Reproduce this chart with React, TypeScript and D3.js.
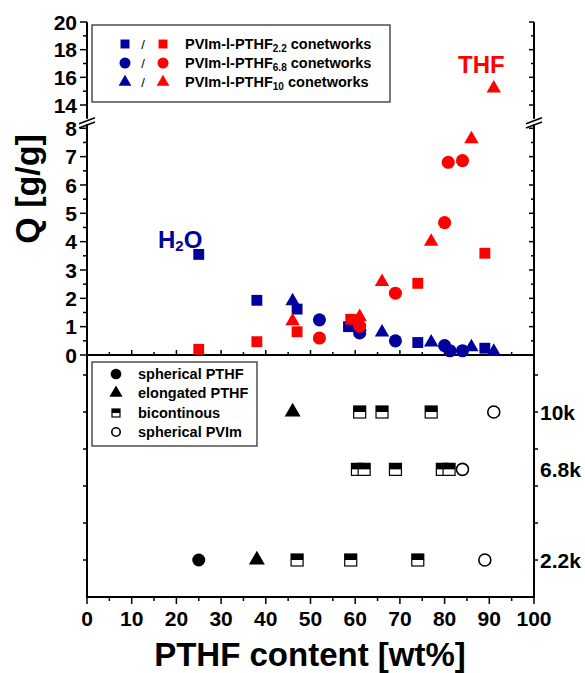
import React from "react";
import * as d3 from "d3";

// ---------- data ----------
const BLUE = "#00009C";
const RED = "#FF0000";

// Swelling in water (blue) and THF (red), Q [g/g] vs PTHF content [wt%]
const h2o22 = [
  { wt: 25, q: 3.55 }, { wt: 38, q: 1.93 }, { wt: 47, q: 1.62 },
  { wt: 58.5, q: 1.0 }, { wt: 74, q: 0.44 }, { wt: 89, q: 0.24 },
];
const h2o68 = [
  { wt: 52, q: 1.24 }, { wt: 61, q: 0.78 }, { wt: 69, q: 0.5 },
  { wt: 80, q: 0.33 }, { wt: 81.2, q: 0.15 }, { wt: 84, q: 0.15 },
];
const h2o10 = [
  { wt: 46, q: 1.9 }, { wt: 61, q: 1.0 }, { wt: 66, q: 0.8 },
  { wt: 77, q: 0.45 }, { wt: 86, q: 0.28 }, { wt: 91, q: 0.12 },
];
const thf22 = [
  { wt: 25, q: 0.2 }, { wt: 38, q: 0.47 }, { wt: 47, q: 0.82 },
  { wt: 59, q: 1.26 }, { wt: 74, q: 2.53 }, { wt: 89, q: 3.59 },
];
const thf68 = [
  { wt: 52, q: 0.6 }, { wt: 61, q: 1.02 }, { wt: 69, q: 2.18 },
  { wt: 80, q: 4.67 }, { wt: 80.8, q: 6.8 }, { wt: 84, q: 6.86 },
];
const thf10 = [
  { wt: 46, q: 1.2 }, { wt: 61, q: 1.35 }, { wt: 66, q: 2.58 },
  { wt: 77, q: 4.0 }, { wt: 86, q: 7.62 }, { wt: 91, q: 15.2 },
];

// Morphology (lower panel)
const rowLabels = ["2.2k", "6.8k", "10k"];
const rowValues = [1, 3.45, 5];
const sphericalPTHF = [{ wt: 25, row: "2.2k" }];
const elongatedPTHF = [{ wt: 38, row: "2.2k" }, { wt: 46, row: "10k" }];
const bicontinuous = [
  { wt: 47, row: "2.2k" }, { wt: 59, row: "2.2k" }, { wt: 74, row: "2.2k" },
  { wt: 60.5, row: "6.8k" }, { wt: 62, row: "6.8k" }, { wt: 69, row: "6.8k" },
  { wt: 79.5, row: "6.8k" }, { wt: 81, row: "6.8k" },
  { wt: 61, row: "10k" }, { wt: 66, row: "10k" }, { wt: 77, row: "10k" },
];
const sphericalPVIm = [
  { wt: 89, row: "2.2k" }, { wt: 84, row: "6.8k" }, { wt: 91, row: "10k" },
];

const xTicks = [0, 10, 20, 30, 40, 50, 60, 70, 80, 90, 100];
const yLowTicks = [0, 1, 2, 3, 4, 5, 6, 7, 8];
const yUpTicks = [14, 16, 18, 20];

// ---------- layout ----------
const W = 585, H = 673;
const FONT = "'Liberation Sans', Arial, sans-serif";
const x = d3.scaleLinear().domain([0, 100]).range([87, 534]);
const yLow = d3.scaleLinear().domain([0, 8]).range([355, 128.3]);
const yUp = d3.scaleLinear().domain([14, 20]).range([105, 22]);
const yRow = d3.scaleLinear().domain([0, 6]).range([597, 375]);
const rowY = (r: string) => yRow(rowValues[rowLabels.indexOf(r)]);
const yQ = (q: number) => (q > 10 ? yUp(q) : yLow(q));

const sym = (type: any, size: number) => d3.symbol().type(type).size(size)() as string;
const SQ = sym(d3.symbolSquare, 118);
const CI = sym(d3.symbolCircle, 135);
const TR = sym(d3.symbolTriangle, 90);

function Bicont({ cx, cy, s = 12 }: { cx: number; cy: number; s?: number }) {
  return (
    <g>
      <rect x={cx - s / 2} y={cy - s / 2} width={s} height={s} fill="#fff" stroke="#000" strokeWidth={1.2} />
      <rect x={cx - s / 2} y={cy - s / 2} width={s} height={s / 2} fill="#000" />
    </g>
  );
}

export default function App() {
  const xMinor = d3.range(5, 100, 10);
  const yLowMinor = d3.range(0.5, 8, 1);
  const yUpMinor = [15, 17, 19];
  const rowTicks = [1, 2, 3, 4, 5, 6];
  const L = x(0), R = x(100);
  const upBottom = yUp(13);
  const lowTop = yLow(8.15);
  const bottom = yRow(0);

  const series = [
    { data: h2o22, d: SQ, c: BLUE },
    { data: h2o68, d: CI, c: BLUE },
    { data: h2o10, d: TR, c: BLUE },
    { data: thf22, d: SQ, c: RED },
    { data: thf68, d: CI, c: RED },
    { data: thf10, d: TR, c: RED },
  ];

  const breakMarks = (ax: number) => (
    <g stroke="#000" strokeWidth={1.6}>
      <line x1={ax - 8} y1={upBottom + 5} x2={ax + 8} y2={upBottom - 1} />
      <line x1={ax - 8} y1={lowTop + 4} x2={ax + 8} y2={lowTop - 2} />
    </g>
  );

  return (
    <svg width={W} height={H} style={{ position: "absolute", left: 0, top: 0, background: "#fff" }} fontFamily={FONT}>
      <rect width={W} height={H} fill="#fff" />
      {/* axis lines */}
      <g stroke="#000" strokeWidth={2}>
        <line x1={L} y1={yUp(20)} x2={L} y2={upBottom} />
        <line x1={L} y1={lowTop} x2={L} y2={bottom} />
        <line x1={R} y1={yUp(20)} x2={R} y2={upBottom} />
        <line x1={R} y1={lowTop} x2={R} y2={bottom} />
        <line x1={L} y1={yLow(0)} x2={R} y2={yLow(0)} />
        <line x1={L - 1} y1={bottom} x2={R + 1} y2={bottom} />
      </g>
      {breakMarks(L)}
      {breakMarks(R)}
      {/* left/right ticks upper */}
      <g stroke="#000" strokeWidth={1.5}>
        {yUpTicks.map((t) => (
          <g key={"u" + t}>
            <line x1={L - 7} x2={L} y1={yUp(t)} y2={yUp(t)} />
            <line x1={R - 5} x2={R} y1={yUp(t)} y2={yUp(t)} />
          </g>
        ))}
        {yUpMinor.map((t) => (
          <g key={"um" + t}>
            <line x1={L - 4} x2={L} y1={yUp(t)} y2={yUp(t)} />
            <line x1={R - 3} x2={R} y1={yUp(t)} y2={yUp(t)} />
          </g>
        ))}
        {yLowTicks.map((t) => (
          <g key={"l" + t}>
            <line x1={L - 7} x2={L} y1={yLow(t)} y2={yLow(t)} />
            {t > 0 && <line x1={R - 5} x2={R} y1={yLow(t)} y2={yLow(t)} />}
          </g>
        ))}
        {yLowMinor.map((t) => (
          <g key={"lm" + t}>
            <line x1={L - 4} x2={L} y1={yLow(t)} y2={yLow(t)} />
            <line x1={R - 3} x2={R} y1={yLow(t)} y2={yLow(t)} />
          </g>
        ))}
        {/* upward ticks on Q=0 line */}
        {d3.range(5, 100, 5).map((t) => (
          <line key={"q" + t} x1={x(t)} x2={x(t)} y1={yLow(0)} y2={yLow(0) - (t % 10 === 0 ? 5 : 3)} />
        ))}
        {/* lower panel ticks */}
        {rowTicks.map((t) => (
          <g key={"r" + t}>
            <line x1={L - 4} x2={L} y1={yRow(t)} y2={yRow(t)} />
            <line x1={R} x2={R + 4} y1={yRow(t)} y2={yRow(t)} />
          </g>
        ))}
        {xTicks.map((t) => (
          <line key={"x" + t} x1={x(t)} x2={x(t)} y1={bottom} y2={bottom + 7} />
        ))}
        {xMinor.map((t) => (
          <line key={"xm" + t} x1={x(t)} x2={x(t)} y1={bottom} y2={bottom + 4} />
        ))}
      </g>
      {/* tick labels */}
      <g fontSize={21} fontWeight="bold" fill="#000">
        {yUpTicks.map((t) => (
          <text key={"tu" + t} x={L - 10} y={yUp(t)} dy="0.36em" textAnchor="end">{t}</text>
        ))}
        {yLowTicks.map((t) => (
          <text key={"tl" + t} x={L - 10} y={yLow(t)} dy="0.36em" textAnchor="end">{t}</text>
        ))}
        {xTicks.map((t) => (
          <text key={"tx" + t} x={x(t)} y={bottom + 29} textAnchor="middle">{t}</text>
        ))}
        {rowLabels.map((r) => (
          <text key={"tr" + r} x={R + 6} y={rowY(r)} dy="0.36em">{r}</text>
        ))}
      </g>
      {/* axis titles */}
      <text fontSize={34} fontWeight="bold" textAnchor="middle" transform={`translate(39,${189}) rotate(-90)`}>Q [g/g]</text>
      <text fontSize={33} fontWeight="bold" textAnchor="middle" x={310} y={666}>PTHF content [wt%]</text>

      {/* upper legend */}
      <rect x={92} y={25} width={298} height={77} fill="#fff" stroke="#333" strokeWidth={1.3} />
      {[
        { d: SQ, sub: "2.2" },
        { d: CI, sub: "6.8" },
        { d: TR, sub: "10" },
      ].map((it, i) => {
        const cy = 44 + i * 19;
        const small = it.d === SQ ? sym(d3.symbolSquare, 80) : it.d === CI ? sym(d3.symbolCircle, 95) : sym(d3.symbolTriangle, 70);
        return (
          <g key={"lg" + i}>
            <path d={small} transform={`translate(125,${cy})`} fill={BLUE} />
            <text x={143} y={cy + 5} fontSize={13} textAnchor="middle">/</text>
            <path d={small} transform={`translate(163,${cy})`} fill={RED} />
            <text x={185} y={cy + 5} fontSize={14.5} fontWeight="bold">
              PVIm-l-PTHF<tspan fontSize={10} dy={3}>{it.sub}</tspan>
              <tspan dy={-3}> conetworks</tspan>
            </text>
          </g>
        );
      })}

      {/* data points */}
      {series.map((s, i) => (
        <g key={"s" + i} fill={s.c}>
          {s.data.map((p, j) => (
            <path key={j} d={s.d} transform={`translate(${x(p.wt)},${yQ(p.q)})`} />
          ))}
        </g>
      ))}

      {/* annotations */}
      <text x={158} y={248} fontSize={24} fontWeight="bold" fill={BLUE}>
        H<tspan fontSize={15} dy={3}>2</tspan><tspan dy={-3}>O</tspan>
      </text>
      <text x={458} y={73} fontSize={24} fontWeight="bold" fill={RED}>THF</text>

      {/* lower legend */}
      <rect x={92} y={362} width={165} height={84} fill="#fff" stroke="#333" strokeWidth={1.3} />
      <g fontSize={14.5} fontWeight="bold">
        <path d={sym(d3.symbolCircle, 90)} transform="translate(116,374)" fill="#000" />
        <text x={138} y={379}>spherical PTHF</text>
        <path d={sym(d3.symbolTriangle, 75)} transform="translate(116,393)" fill="#000" />
        <text x={138} y={398}>elongated PTHF</text>
        <Bicont cx={116} cy={413} s={8} />
        <text x={138} y={418}>bicontinous</text>
        <circle cx={116} cy={432} r={4.2} fill="#fff" stroke="#000" strokeWidth={1.6} />
        <text x={138} y={437}>spherical PVIm</text>
      </g>

      {/* morphology markers */}
      {sphericalPTHF.map((p, i) => (
        <circle key={"sp" + i} cx={x(p.wt)} cy={rowY(p.row)} r={6.5} fill="#000" />
      ))}
      {elongatedPTHF.map((p, i) => (
        <path key={"el" + i} d={sym(d3.symbolTriangle, 110)} transform={`translate(${x(p.wt)},${rowY(p.row)})`} fill="#000" />
      ))}
      {bicontinuous.map((p, i) => (
        <Bicont key={"bi" + i} cx={x(p.wt)} cy={rowY(p.row)} />
      ))}
      {sphericalPVIm.map((p, i) => (
        <circle key={"pv" + i} cx={x(p.wt)} cy={rowY(p.row)} r={6} fill="#fff" stroke="#000" strokeWidth={1.6} />
      ))}
    </svg>
  );
}
